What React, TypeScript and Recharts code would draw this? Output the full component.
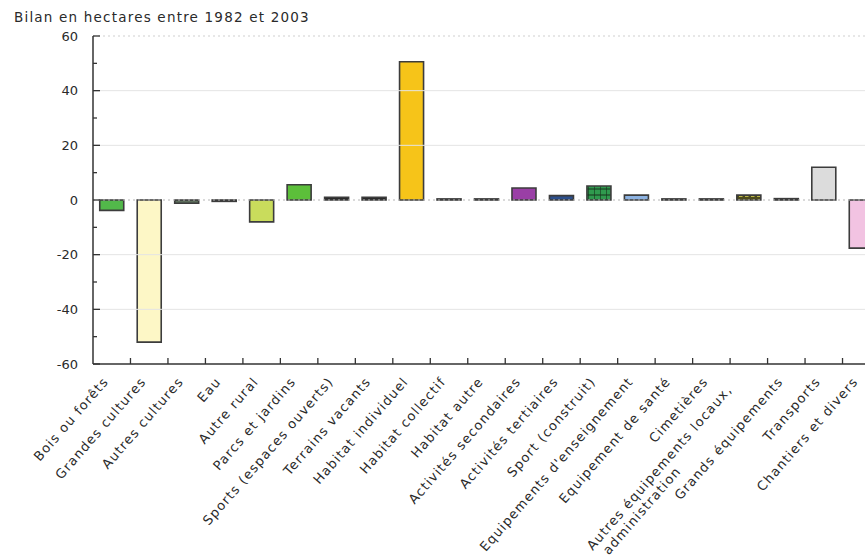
import { BarChart, Bar, XAxis, YAxis, Cell, ReferenceLine } from "recharts";

// categories (21), values in hectares
const categories = [
  "Bois ou forêts",
  "Grandes cultures",
  "Autres cultures",
  "Eau",
  "Autre rural",
  "Parcs et jardins",
  "Sports (espaces ouverts)",
  "Terrains vacants",
  "Habitat individuel",
  "Habitat collectif",
  "Habitat autre",
  "Activités secondaires",
  "Activités tertiaires",
  "Sport (construit)",
  "Equipements d'enseignement",
  "Equipement de santé",
  "Cimetières",
  "Autres équipements locaux,\nadministration",
  "Grands équipements",
  "Transports",
  "Chantiers et divers",
];

const bilan = [
  -3.8, -52, -1.2, -0.5, -8, 5.6, 1, 1, 50.6, 0.4, 0.4, 4.4, 1.6, 5.1, 1.8, 0.4, 0.4, 1.8, 0.5, 12, -17.6,
];

const yTicks = [-60, -50, -40, -30, -20, -10, 0, 10, 20, 30, 40, 50, 60];
const gridLevels = [40, 20, -20, -40];

const barFills = [
  "#52b84a", "#fdf7c6", "#5d6e5c", "#6a6a6a", "#c9dc5c", "#5cbf3a", "#2a2a2a",
  "#2a2a2a", "#f6c419", "#6a6a6a", "#6a6a6a", "#9a3fa6", "#2c4f8c", "url(#gridGreen)",
  "#8db3e2", "#6a6a6a", "#6a6a6a", "url(#oliveDots)", "#6a6a6a", "#dcdcdc", "#f2c3e2",
];

const data = categories.map((name, i) => ({ name, value: bilan[i] }));

const FONT = "'DejaVu Sans', Verdana, sans-serif";
const W = 890;
const H = 558;
const LEFT = 93;
const RIGHT = 10;
const BAND = (W - LEFT - RIGHT) / categories.length;

const YTick = (props: any) => {
  const { x, y, payload } = props;
  const v = payload.value;
  const major = v % 20 === 0;
  return (
    <g>
      <line x1={x} x2={x + (major ? 7 : 4)} y1={y} y2={y} stroke="#333" strokeWidth={1.3} />
      {major && (
        <text x={x - 15} y={y} dy="0.35em" textAnchor="end" fontSize={13} fill="#2a2a2a" fontFamily={FONT}>
          {v}
        </text>
      )}
    </g>
  );
};

const XTick = (props: any) => {
  const { x, y, payload } = props;
  const lines = String(payload.value).split("\n");
  const two = lines.length > 1;
  const txt = { fontSize: 13, fill: "#2a2a2a", fontFamily: FONT, letterSpacing: 1.2 };
  return (
    <g>
      <line x1={x + BAND / 2} x2={x + BAND / 2} y1={y} y2={y - 6} stroke="#333" strokeWidth={1.3} />
      <g transform={`translate(${x - 6},${y + 15}) rotate(-49)`}>
        <text x={two ? -15 : 0} y={two ? -5 : 0} dy="0.35em" textAnchor="end" {...txt}>
          {lines[0]}
        </text>
        {two && (
          <text x={-110} y={10} dy="0.35em" textAnchor="end" {...txt}>
            {lines[1]}
          </text>
        )}
      </g>
    </g>
  );
};

export default function App() {
  return (
    <div
      style={{
        position: "absolute",
        left: 0,
        top: 0,
        width: 865,
        height: 558,
        overflow: "hidden",
        background: "#fff",
      }}
    >
      <div
        style={{
          position: "absolute",
          left: 14,
          top: 9,
          fontFamily: FONT,
          fontSize: 13.5,
          letterSpacing: 1.2,
          color: "#2a2a2a",
          whiteSpace: "nowrap",
        }}
      >
        Bilan en hectares entre 1982 et 2003
      </div>
      <BarChart
        width={W}
        height={H}
        data={data}
        margin={{ top: 36, right: RIGHT, bottom: 44, left: LEFT - 60 }}
        barCategoryGap="18%"
      >
        <defs>
          <pattern id="gridGreen" width="6" height="6" patternUnits="userSpaceOnUse">
            <rect width="6" height="6" fill="#2f9a4e" />
            <path d="M0 0 V6 M0 3 H6" stroke="#16331c" strokeWidth="1.2" />
          </pattern>
          <pattern id="oliveDots" width="6" height="6" patternUnits="userSpaceOnUse">
            <rect width="6" height="6" fill="#4d4b1c" />
            <rect x="1" y="1" width="3.5" height="4" fill="#bdb848" />
          </pattern>
        </defs>
        {gridLevels.map((g) => (
          <ReferenceLine key={g} y={g} stroke="#e4e4e4" strokeWidth={1} />
        ))}
        <ReferenceLine y={60} stroke="#cfcfcf" strokeDasharray="2 3" />
        <ReferenceLine y={0} stroke="#b5b5b5" strokeDasharray="2 3" />
        <XAxis
          dataKey="name"
          interval={0}
          height={150}
          tickSize={0}
          tickMargin={0}
          tickLine={false}
          axisLine={{ stroke: "#333", strokeWidth: 1.5 }}
          tick={<XTick />}
        />
        <YAxis
          width={60}
          domain={[-60, 60]}
          ticks={yTicks}
          interval={0}
          tickSize={0}
          tickMargin={0}
          tickLine={false}
          axisLine={{ stroke: "#333", strokeWidth: 1.5 }}
          tick={<YTick />}
        />
        <Bar dataKey="value" stroke="#3c3c3c" strokeWidth={1.6} isAnimationActive={false}>
          {data.map((d, i) => (
            <Cell key={d.name} fill={barFills[i]} />
          ))}
        </Bar>
      </BarChart>
    </div>
  );
}
